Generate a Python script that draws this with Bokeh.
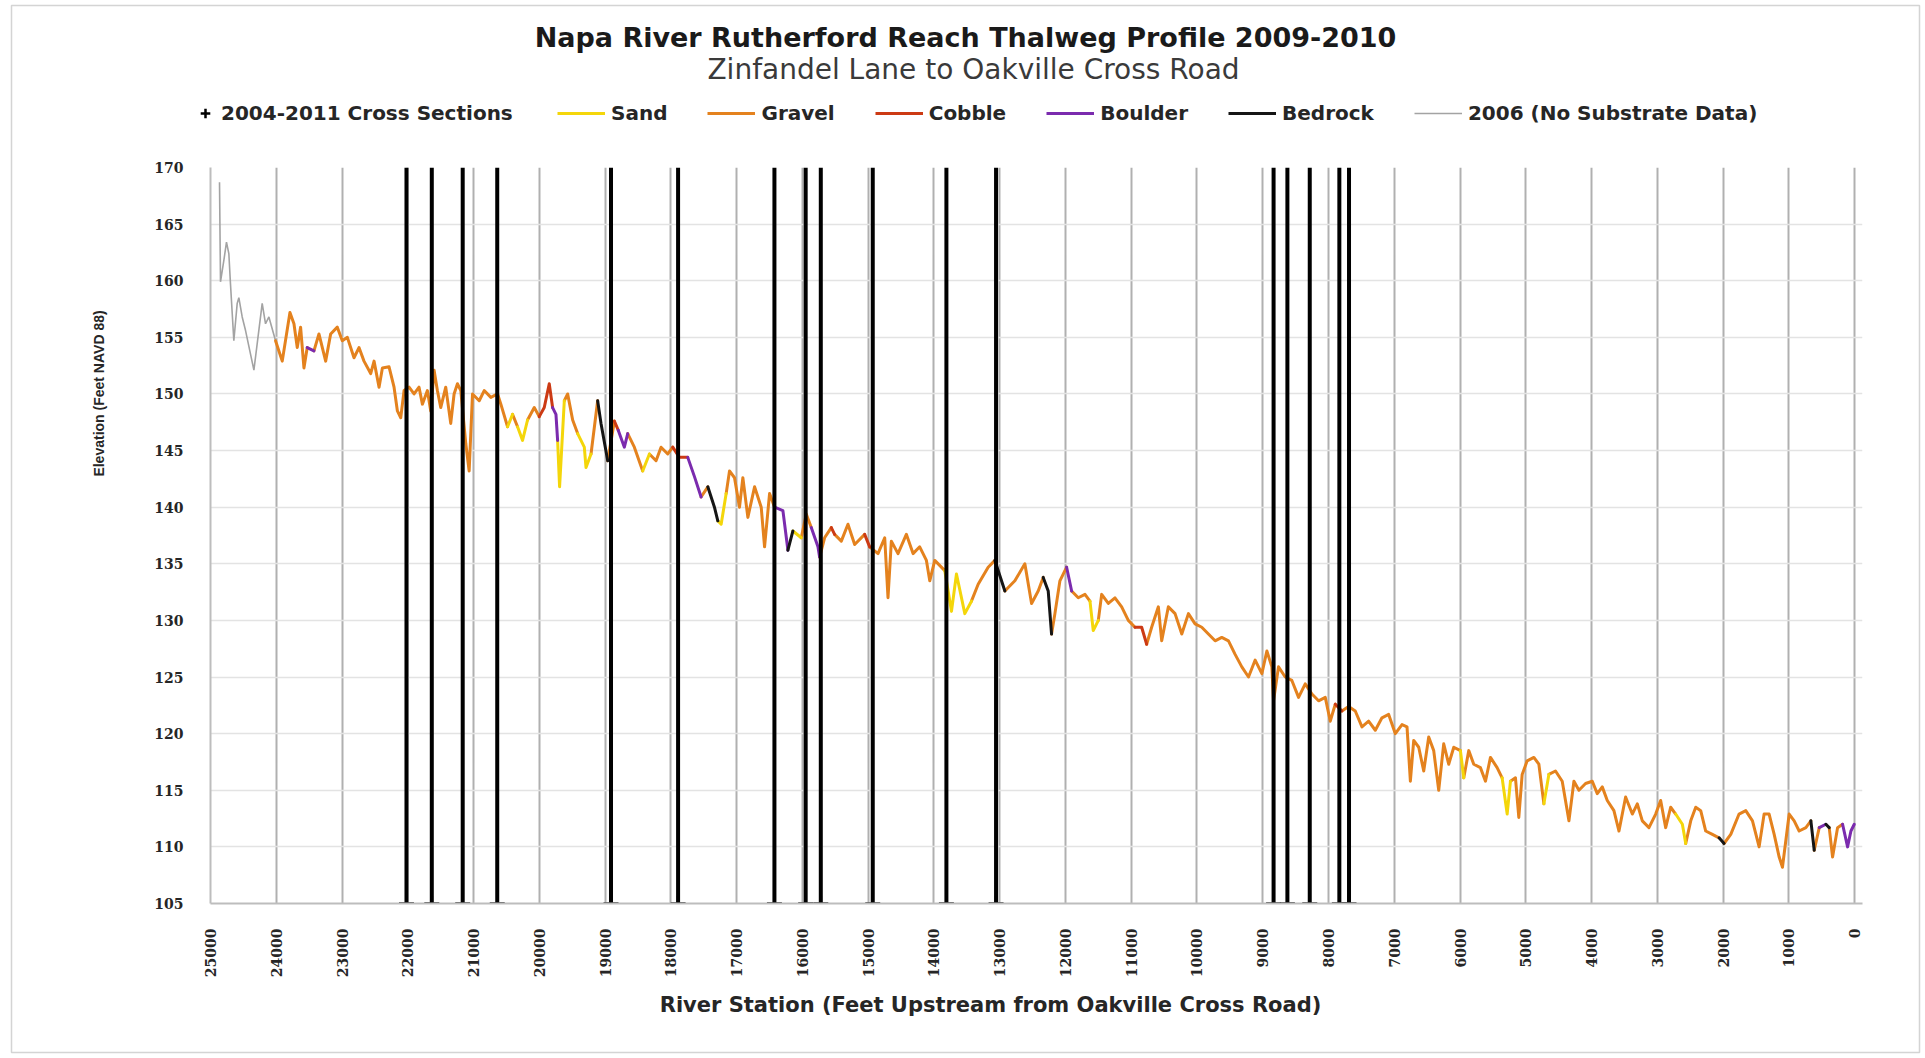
from math import pi
from bokeh.plotting import figure
from bokeh.models import Range1d, FixedTicker, Label, Legend, LegendItem
from bokeh.embed import file_html
from bokeh.resources import INLINE

# ---------------- data ----------------
x_ticks = list(range(0, 25001, 1000))
y_ticks = list(range(105, 171, 5))

cross_sections = [22020, 21635, 21165, 20640, 18910, 17890, 16425, 15950, 15720,
                  14930, 13810, 13055, 8835, 8625, 8285, 7835, 7688]

station_2006 = [24863, 24848, 24797, 24757, 24721, 24696, 24645, 24594, 24569,
                24518, 24467, 24340, 24214, 24163, 24112, 24011]
elev_2006 = [168.7, 159.9, 161.8, 163.4, 162.4, 159.7, 154.7, 158.0, 158.5,
             156.8, 155.6, 152.1, 158.0, 156.2, 156.8, 154.7]

profile_station = [
    24011, 23909, 23792, 23731, 23681, 23630, 23579, 23529, 23427, 23351, 23249, 23173,
    23072, 22996, 22919, 22818, 22742, 22666, 22564, 22513, 22437, 22386, 22285, 22209,
    22158, 22107, 22057, 21981, 21905, 21829, 21778, 21702, 21651, 21600, 21550, 21499,
    21423, 21347, 21296, 21245, 21194, 21118, 21067, 21016, 20914, 20838, 20737, 20635,
    20585, 20483, 20407, 20331, 20255, 20179, 20077, 20001, 19925, 19849, 19798, 19747,
    19722, 19692, 19620, 19569, 19493, 19417, 19316, 19290, 19214, 19113, 19062, 18960,
    18859, 18800, 18707, 18656, 18555, 18428, 18326, 18225, 18149, 18047, 17971, 17870,
    17743, 17641, 17540, 17438, 17337, 17286, 17235, 17159, 17108, 17032, 16956, 16905,
    16829, 16727, 16626, 16575, 16499, 16423, 16296, 16220, 16144, 16017, 15941, 15865,
    15763, 15738, 15662, 15560, 15510, 15408, 15307, 15205, 15053, 14977, 14850, 14748,
    14698, 14647, 14546, 14419, 14317, 14216, 14114, 14063, 13987, 13835, 13733, 13657,
    13530, 13429, 13327, 13175, 13073, 12972, 12921, 12769, 12617, 12515, 12414, 12338,
    12262, 12211, 12160, 12084, 11982, 11906, 11805, 11703, 11627, 11577, 11500, 11449,
    11348, 11247, 11145, 11044, 10942, 10841, 10765, 10689, 10587, 10536, 10435, 10333,
    10231, 10130, 10029, 9927, 9826, 9724, 9623, 9521, 9420, 9318, 9216, 9115,
    9013, 8937, 8861, 8836, 8760, 8658, 8557, 8455, 8354, 8252, 8151, 8049,
    7973, 7897, 7796, 7694, 7593, 7491, 7390, 7288, 7187, 7085, 6984, 6882,
    6806, 6755, 6704, 6628, 6552, 6476, 6400, 6324, 6248, 6172, 6095, 5994,
    5943, 5867, 5791, 5690, 5613, 5537, 5436, 5360, 5283, 5233, 5157, 5106,
    5055, 4979, 4877, 4801, 4725, 4649, 4548, 4446, 4344, 4268, 4192, 4091,
    3989, 3913, 3837, 3761, 3660, 3583, 3482, 3380, 3304, 3228, 3127, 3025,
    2949, 2873, 2797, 2721, 2619, 2568, 2492, 2416, 2340, 2264, 2163, 2061,
    1985, 1883, 1757, 1655, 1553, 1452, 1376, 1300, 1223, 1147, 1097, 995,
    919, 843, 741, 665, 614, 538, 437, 386, 335, 259, 183, 107,
    56, 5]

profile_elev = [
    154.7, 152.9, 157.2, 156.2, 154.1, 155.9, 152.3, 154.1, 153.8, 155.3, 152.9, 155.3,
    155.9, 154.7, 155.0, 153.2, 154.1, 152.9, 151.8, 152.9, 150.6, 152.3, 152.4, 150.6,
    148.5, 147.9, 150.3, 150.6, 150.0, 150.6, 149.1, 150.3, 148.5, 152.1, 150.3, 148.8,
    150.6, 147.4, 150.0, 150.9, 150.3, 145.6, 143.2, 150.0, 149.4, 150.3, 149.7, 150.0,
    149.1, 147.1, 148.2, 147.1, 145.9, 147.7, 148.8, 148.0, 148.8, 150.9, 148.8, 148.2,
    145.9, 141.8, 149.4, 150.0, 147.7, 146.5, 145.3, 143.5, 144.7, 149.4, 147.4, 144.1,
    147.6, 146.8, 145.3, 146.5, 145.3, 143.2, 144.7, 144.1, 145.3, 144.7, 145.3, 144.4,
    144.4, 142.7, 140.9, 141.8, 140.0, 138.8, 138.5, 141.2, 143.2, 142.6, 140.0, 142.6,
    139.1, 141.8, 140.0, 136.5, 141.2, 140.0, 139.7, 136.2, 137.9, 137.3, 139.4, 138.2,
    136.5, 135.6, 137.3, 138.2, 137.6, 137.0, 138.5, 136.7, 137.6, 136.5, 135.9, 137.3,
    132.0, 137.0, 135.9, 137.6, 135.9, 136.5, 135.3, 133.5, 135.3, 134.4, 130.8, 134.1,
    130.6, 131.7, 133.2, 134.7, 135.3, 133.5, 132.6, 133.5, 135.0, 131.5, 132.6, 133.8,
    132.6, 128.8, 130.6, 133.5, 134.7, 132.6, 132.0, 132.3, 131.7, 129.1, 130.0, 132.3,
    131.5, 132.0, 131.2, 130.0, 129.4, 129.4, 127.9, 129.4, 131.2, 128.2, 131.2, 130.6,
    128.8, 130.6, 129.7, 129.4, 128.8, 128.2, 128.5, 128.2, 127.0, 125.9, 125.0, 126.5,
    125.3, 127.3, 125.9, 122.9, 125.9, 125.0, 124.7, 123.2, 124.4, 123.5, 122.9, 123.2,
    121.1, 122.6, 122.0, 122.4, 122.0, 120.6, 121.1, 120.3, 121.4, 121.7, 120.0, 120.8,
    120.6, 115.8, 119.4, 118.8, 116.7, 119.7, 118.5, 115.0, 119.1, 117.3, 118.8, 118.5,
    116.1, 118.5, 117.3, 117.0, 115.8, 117.9, 117.0, 116.1, 112.9, 115.8, 116.1, 112.6,
    116.4, 117.6, 117.9, 117.3, 113.8, 116.4, 116.7, 115.8, 112.3, 115.8, 115.0, 115.6,
    115.8, 114.7, 115.3, 114.1, 113.2, 111.4, 114.4, 112.9, 113.8, 112.3, 111.7, 112.9,
    114.1, 111.7, 113.5, 112.9, 112.0, 110.3, 112.3, 113.5, 113.2, 111.4, 111.1, 110.8,
    110.3, 111.1, 112.9, 113.2, 112.3, 110.0, 112.9, 112.9, 111.1, 109.1, 108.2, 112.9,
    112.3, 111.4, 111.7, 112.3, 109.7, 111.7, 112.0, 111.7, 109.1, 111.7, 112.0, 110.0,
    111.4, 112.0]

# substrate of the segment that starts at each point: G gravel, S sand, C cobble, B boulder, R bedrock
profile_substrate = (
    "G G G G G G G B G G G G "
    "G G G G G G G G G G G G "
    "G G G G G G G G G G G G "
    "G G G G G G G G G G G G "
    "G S G S S G G C C C B B "
    "S S G G G S S S G R R G "
    "C B B G G S G G G G C C "
    "B B G R R S S G G G G G "
    "G G G G G B B R S G G B "
    "B G G C G G G G C G G G "
    "G G G G G G G G G S S S "
    "S G G G R R G G G G G R "
    "R G G G B G G G S S G G "
    "G G G G C C G G G G G G "
    "G G G G G G G G G G G G "
    "G G G G G G G G G G G G "
    "G C G G G G G G G G G G "
    "G G G G G G G G G G G S "
    "G G G G G G G S S G G G "
    "G G G G S G G G G G G G "
    "G G G G G G G G G G G G "
    "G G G S S G G G G G G R "
    "G G G G G G G G G G G G "
    "G G G R G B R G G G B B "
    "B B").split()

legend_labels = ["Sand", "Gravel", "Cobble", "Boulder", "Bedrock", "2006 (No Substrate Data)"]
sub_codes = ["S", "G", "C", "B", "R"]
sub_colors = {"G": "#E4821E", "S": "#F4D60A", "C": "#CC3A14", "B": "#7B2BAE", "R": "#151515"}
color_2006 = "#A3A3A3"

# ---------------- main figure ----------------
FRAME_L, FRAME_R, FRAME_T, FRAME_B = 210, 1862, 167, 903
W, H = 1925, 1058

p = figure(width=W, height=H, x_range=Range1d(25000, -120), y_range=Range1d(105, 170),
           output_backend="svg", toolbar_location=None, title_location=None,
           min_border_left=FRAME_L, min_border_right=W - FRAME_R,
           min_border_top=FRAME_T, min_border_bottom=H - FRAME_B)
p.outline_line_color = None
p.background_fill_color = "white"
p.border_fill_color = "white"

for ax in (p.xaxis[0], p.yaxis[0]):
    ax.axis_line_color = "#BDBDBD"
    ax.axis_line_width = 2
    ax.major_tick_line_color = None
    ax.minor_tick_line_color = None
    ax.major_label_text_font = "DejaVu Serif"
    ax.major_label_text_font_style = "bold"
    ax.major_label_text_font_size = "14px"
    ax.major_label_text_color = "#262626"

p.xaxis.ticker = FixedTicker(ticks=x_ticks)
p.xaxis.major_label_orientation = pi / 2
p.xaxis.major_label_standoff = 19
p.yaxis.ticker = FixedTicker(ticks=y_ticks)
p.yaxis.major_label_standoff = 21

p.xgrid.ticker = FixedTicker(ticks=x_ticks)
p.xgrid.grid_line_color = "#B0B0B0"
p.xgrid.grid_line_width = 2
p.ygrid.ticker = FixedTicker(ticks=y_ticks)
p.ygrid.grid_line_color = "#E3E3E3"
p.ygrid.grid_line_width = 1.5

# 2006 profile
p.line(station_2006, elev_2006, line_color=color_2006, line_width=1.6)

# 2009-2010 profile, coloured by substrate
runs = {k: ([], []) for k in sub_colors}
n = len(profile_station)
i = 0
while i < n - 1:
    s = profile_substrate[i]
    j = i
    while j < n - 1 and profile_substrate[j] == s:
        j += 1
    runs[s][0].append(profile_station[i:j + 1])
    runs[s][1].append(profile_elev[i:j + 1])
    i = j

for k in ["G", "S", "C", "B", "R"]:
    xs_, ys_ = runs[k]
    p.multi_line(xs_, ys_, line_color=sub_colors[k], line_width=3,
                 line_join="round", line_cap="round")

# cross sections
ymin, ymax = y_ticks[0], y_ticks[-1]
p.segment(x0=cross_sections, y0=[ymin] * len(cross_sections),
          x1=cross_sections, y1=[ymax] * len(cross_sections),
          line_color="black", line_width=4)
p.scatter(cross_sections, [ymin] * len(cross_sections), marker="cross",
          size=15, line_width=2.5, line_color="black")

# ---------------- overlay for titles & legend (same size, transparent) ----------------
OV_L, OV_R, OV_T, OV_B = 11, 6, 5, 6
ov = figure(width=W, height=H, x_range=Range1d(OV_L, W - OV_R), y_range=Range1d(H - OV_B, OV_T),
            output_backend="svg", toolbar_location=None, title_location=None,
            x_axis_location=None, y_axis_location=None,
            min_border_left=OV_L, min_border_right=OV_R, min_border_top=OV_T, min_border_bottom=OV_B)
ov.grid.visible = False
ov.background_fill_color = None
ov.border_fill_color = None
ov.outline_line_color = "#D4D4D4"
ov.outline_line_width = 1.5
ov.styles = {"position": "absolute", "left": "0px", "top": "0px"}

def loc(px_x, px_bottom):
    return (px_x - OV_L, (H - OV_B) - px_bottom)

# legend proxies (renderers with a single empty point carrying the styles)
nan = float("nan")
rx = ov.scatter([nan], [nan], marker="cross", size=12, line_width=2.5, line_color="black")
line_r = [ov.line([nan, nan], [nan, nan], line_color=sub_colors[c], line_width=3) for c in sub_codes]
line_r.append(ov.line([nan, nan], [nan, nan], line_color=color_2006, line_width=1.6))

leg_common = dict(orientation="horizontal", padding=0, margin=0, border_line_color=None,
                  background_fill_alpha=0, label_text_font="DejaVu Sans",
                  label_text_font_style="bold", label_text_font_size="20px",
                  label_text_color="#262626", label_height=24)
leg1 = Legend(items=[LegendItem(label="2004-2011 Cross Sections", renderers=[rx])],
              location=loc(192, 125), glyph_width=26, glyph_height=24, label_standoff=3,
              **leg_common)
ov.add_layout(leg1)
leg2 = Legend(items=[LegendItem(label=lab, renderers=[r]) for lab, r in zip(legend_labels, line_r)],
              location=loc(557, 125), glyph_width=48, glyph_height=24, label_standoff=6,
              spacing=40, **leg_common)
ov.add_layout(leg2)

ov.add_layout(Label(x=965, y=37, text="Napa River Rutherford Reach Thalweg Profile 2009-2010",
                    text_font="DejaVu Sans", text_font_style="bold", text_font_size="27px",
                    text_color="#1a1a1a", text_align="center", text_baseline="middle"))
ov.add_layout(Label(x=973, y=69, text="Zinfandel Lane to Oakville Cross Road",
                    text_font="DejaVu Sans", text_font_size="28px",
                    text_color="#3a3a3a", text_align="center", text_baseline="middle"))
ov.add_layout(Label(x=990, y=1004, text="River Station (Feet Upstream from Oakville Cross Road)",
                    text_font="DejaVu Sans", text_font_style="bold", text_font_size="21px",
                    text_color="#262626", text_align="center", text_baseline="middle"))
ov.add_layout(Label(x=98, y=393, text="Elevation (Feet NAVD 88)", angle=pi / 2,
                    text_font="Liberation Sans", text_font_style="bold",
                    text_font_size="14px", text_color="#262626",
                    text_align="center", text_baseline="middle"))

open("out.html", "w").write(file_html([p, ov], INLINE))
